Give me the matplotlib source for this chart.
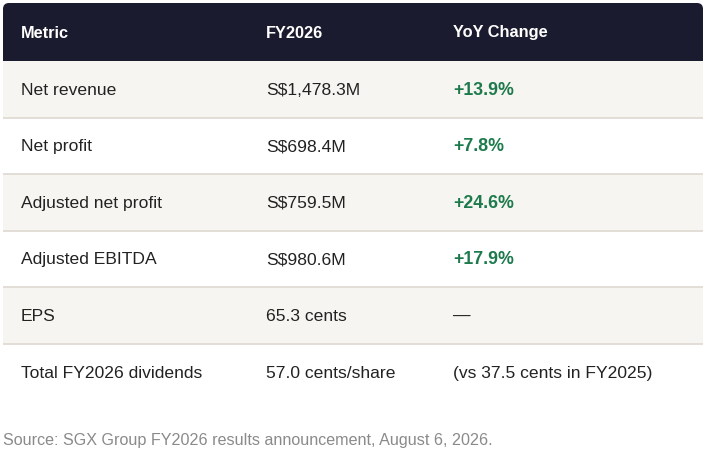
import matplotlib
matplotlib.use("Agg")
import matplotlib.pyplot as plt
from matplotlib.patches import Rectangle, FancyBboxPatch

headers = ["Metric", "FY2026", "YoY Change"]
metrics = ["Net revenue", "Net profit", "Adjusted net profit", "Adjusted EBITDA", "EPS", "Total FY2026 dividends"]
fy2026 = ["S$1,478.3M", "S$698.4M", "S$759.5M", "S$980.6M", "65.3 cents", "57.0 cents/share"]
yoy = ["+13.9%", "+7.8%", "+24.6%", "+17.9%", "\u2014", "(vs 37.5 cents in FY2025)"]
yoy_positive = [True, True, True, True, False, False]
source = "Source: SGX Group FY2026 results announcement, August 6, 2026."

W, H = 705, 458
fig = plt.figure(figsize=(W / 100, H / 100), dpi=100)
ax = fig.add_axes([0, 0, 1, 1])
ax.set_xlim(0, W)
ax.set_ylim(H, 0)
ax.axis("off")

FONT = "Liberation Sans"
left, right = 3, 703
top, head_bot = 3, 61
row_h = 56.55
col_x = [21, 266, 453]

header_col = "#1b1b2f"
band_col = "#f7f5f1"
line_col = "#e0dcd4"
text_col = "#222222"
green = "#1d7a4c"

# header with rounded top corners
ax.add_patch(FancyBboxPatch((left, top), right - left, head_bot - top,
                            boxstyle="round,pad=0,rounding_size=6",
                            fc=header_col, ec="none"))
ax.add_patch(Rectangle((left, top + 15), right - left, head_bot - top - 15,
                       fc=header_col, ec="none"))
for x, h in zip(col_x, headers):
    ax.text(x, (top + head_bot) / 2 + 1, h, color="white", fontsize=11.75,
            fontweight="bold", family=FONT, va="center", ha="left")

for i in range(len(metrics)):
    y0 = head_bot + i * row_h
    if i % 2 == 0:
        ax.add_patch(Rectangle((left, y0), right - left, row_h, fc=band_col, ec="none"))
    if i < len(metrics) - 1:
        ax.plot([left, right], [y0 + row_h, y0 + row_h], color=line_col, lw=1.3,
                solid_capstyle="butt")
    yc = y0 + row_h / 2 + 1
    ax.text(col_x[0], yc, metrics[i], color=text_col, fontsize=12.6, family=FONT,
            va="center", ha="left")
    ax.text(col_x[1], yc, fy2026[i], color=text_col, fontsize=12.6, family=FONT,
            va="center", ha="left")
    if yoy_positive[i]:
        ax.text(col_x[2], yc, yoy[i], color=green, fontsize=12.8, family=FONT,
                fontweight="bold", va="center", ha="left")
    else:
        ax.text(col_x[2], yc, yoy[i], color=text_col, fontsize=12.6, family=FONT,
                va="center", ha="left")

ax.text(3, 440, source, color="#8a8a8a", fontsize=11.65, family=FONT,
        va="center", ha="left")

fig.savefig("out.png", dpi=100, facecolor="white")
